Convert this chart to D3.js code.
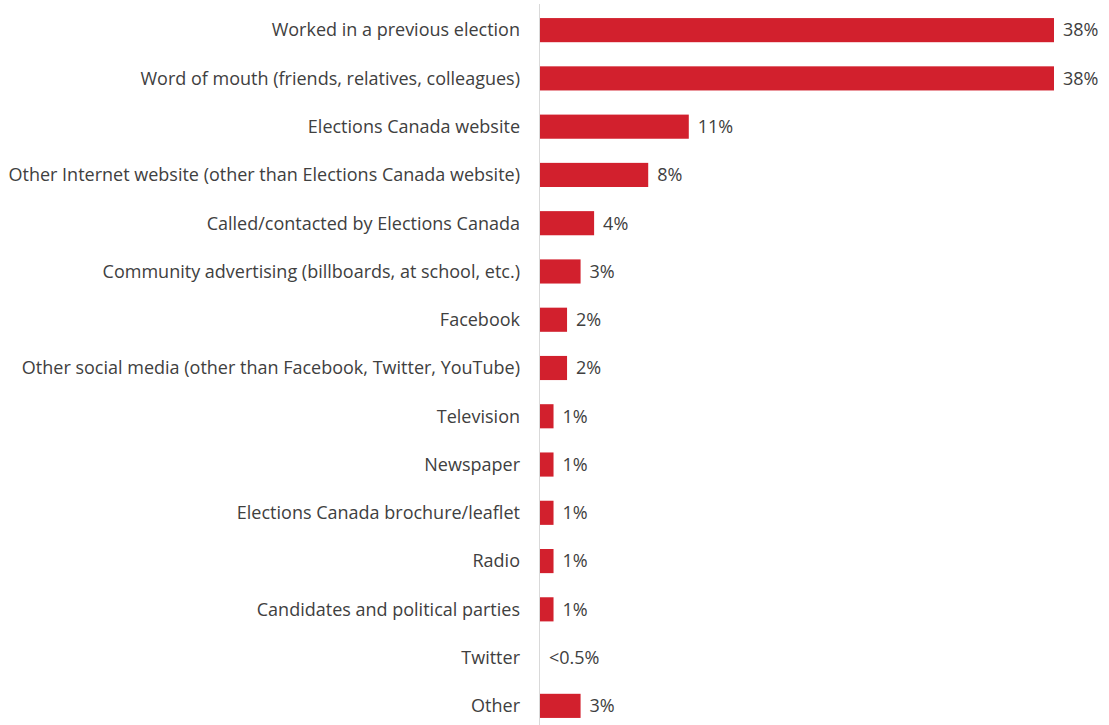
<!DOCTYPE html>
<html>
<head>
<meta charset="utf-8">
<script src="https://cdn.jsdelivr.net/npm/d3@7"></script>
<style>
  body { margin: 0; background: #fff; }
  text { font-family: "Open Sans", sans-serif; fill: #404040; }
</style>
</head>
<body>
<div id="chart"></div>
<script>
// Sources of hearing about election jobs (% of respondents)
const categories = [
  "Worked in a previous election",
  "Word of mouth (friends, relatives, colleagues)",
  "Elections Canada website",
  "Other Internet website (other than Elections Canada website)",
  "Called/contacted by Elections Canada",
  "Community advertising (billboards, at school, etc.)",
  "Facebook",
  "Other social media (other than Facebook, Twitter, YouTube)",
  "Television",
  "Newspaper",
  "Elections Canada brochure/leaflet",
  "Radio",
  "Candidates and political parties",
  "Twitter",
  "Other"
];
const values = [38, 38, 11, 8, 4, 3, 2, 2, 1, 1, 1, 1, 1, 0, 3];
const valueLabels = ["38%", "38%", "11%", "8%", "4%", "3%", "2%", "2%", "1%", "1%", "1%", "1%", "1%", "<0.5%", "3%"];

const W = 1109, H = 725;
const margin = {top: 6, right: 55, bottom: 0, left: 540};

const svg = d3.select("#chart").append("svg")
    .attr("width", W)
    .attr("height", H)
    .append("g")
    .attr("transform", `translate(${margin.left},${margin.top})`);

const x = d3.scaleLinear().domain([0, 38]).range([0, 514]);
const y = d3.scaleBand().domain(categories).range([0, 724]).paddingInner(0.5).paddingOuter(0.25);

// bars
svg.selectAll("rect.bar")
    .data(categories)
    .join("rect")
    .attr("class", "bar")
    .attr("x", 0)
    .attr("y", d => y(d))
    .attr("width", (d, i) => x(values[i]))
    .attr("height", y.bandwidth())
    .attr("fill", "#d2202d");

// vertical axis line
svg.append("line")
    .attr("x1", -0.5).attr("x2", -0.5)
    .attr("y1", -2).attr("y2", H)
    .attr("stroke", "#d9d9d9")
    .attr("stroke-width", 1);

// category labels
svg.selectAll("text.cat")
    .data(categories)
    .join("text")
    .attr("class", "cat")
    .attr("x", -20)
    .attr("y", d => y(d) + y.bandwidth() / 2)
    .attr("dy", "0.35em")
    .attr("text-anchor", "end")
    .style("font-size", "18px")
    .text(d => d);

// value labels
svg.selectAll("text.val")
    .data(categories)
    .join("text")
    .attr("class", "val")
    .attr("x", (d, i) => x(values[i]) + 9)
    .attr("y", d => y(d) + y.bandwidth() / 2)
    .attr("dy", "0.35em")
    .style("font-size", "18px")
    .text((d, i) => valueLabels[i]);
</script>
</body>
</html>
